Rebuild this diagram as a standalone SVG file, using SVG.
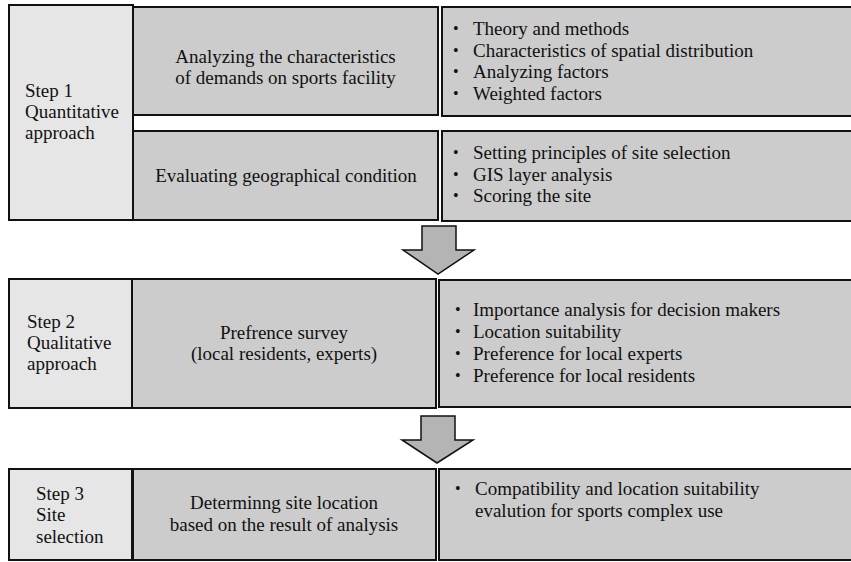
<svg xmlns="http://www.w3.org/2000/svg" width="851" height="562" viewBox="0 0 851 562" font-family="'Liberation Serif', Tinos, 'Times New Roman', 'DejaVu Serif', serif">
<style>
.step{fill:#e6e6e6;stroke:#111;stroke-width:2}
.mid{fill:#cccccc;stroke:#111;stroke-width:2}
.det{fill:#cccccc;stroke:#111;stroke-width:2}
.arrow{fill:#b4b4b4;stroke:#111;stroke-width:1.5;stroke-linejoin:miter}
text{font-family:'Liberation Serif', Tinos, 'Times New Roman', 'DejaVu Serif', serif;font-size:19px;fill:#111}
.c{text-anchor:middle}
.b{font-size:16px}
</style>
<rect width="851" height="562" fill="#fff"/>
<g id="step1">
<rect class="step" x="9" y="5" width="124" height="215"/>
<text x="25" y="97">Step 1</text>
<text x="25" y="118">Quantitative</text>
<text x="25" y="139">approach</text>
</g>
<g id="analyzing">
<rect class="mid" x="133" y="7" width="305" height="108"/>
<text class="c" x="285.5" y="63">Analyzing the characteristics</text>
<text class="c" x="285.5" y="84">of demands on sports facility</text>
</g>
<g id="analyzing-details">
<rect class="det" x="442" y="7" width="415" height="109"/>
<text class="b" x="453" y="34">•</text><text x="473" y="35">Theory and methods</text>
<text class="b" x="453" y="56">•</text><text x="473" y="57">Characteristics of spatial distribution</text>
<text class="b" x="453" y="77">•</text><text x="473" y="78">Analyzing factors</text>
<text class="b" x="453" y="99">•</text><text x="473" y="100">Weighted factors</text>
</g>
<g id="evaluating">
<rect class="mid" x="133" y="131" width="305" height="89"/>
<text class="c" x="286" y="182">Evaluating geographical condition</text>
</g>
<g id="evaluating-details">
<rect class="det" x="442" y="131" width="415" height="90"/>
<text class="b" x="453" y="158">•</text><text x="473" y="159">Setting principles of site selection</text>
<text class="b" x="453" y="180">•</text><text x="473" y="181">GIS layer analysis</text>
<text class="b" x="453" y="201">•</text><text x="473" y="202">Scoring the site</text>
</g>
<g id="step2">
<rect class="step" x="9" y="279" width="123" height="129"/>
<text x="27" y="328">Step 2</text>
<text x="27" y="349">Qualitative</text>
<text x="27" y="370">approach</text>
</g>
<g id="survey">
<rect class="mid" x="132" y="279" width="304" height="129"/>
<text class="c" x="284" y="339">Prefrence survey</text>
<text class="c" x="284" y="360">(local residents, experts)</text>
</g>
<g id="survey-details">
<rect class="det" x="439" y="280" width="418" height="127"/>
<text class="b" x="455" y="315">•</text><text x="473" y="316">Importance analysis for decision makers</text>
<text class="b" x="455" y="337">•</text><text x="473" y="338">Location suitability</text>
<text class="b" x="455" y="359">•</text><text x="473" y="360">Preference for local experts</text>
<text class="b" x="455" y="381">•</text><text x="473" y="382">Preference for local residents</text>
</g>
<g id="step3">
<rect class="step" x="9" y="469" width="123" height="91"/>
<text x="36" y="500">Step 3</text>
<text x="36" y="521">Site</text>
<text x="36" y="543">selection</text>
</g>
<g id="determining">
<rect class="mid" x="133" y="469" width="303" height="91"/>
<text class="c" x="284" y="509">Determinng site location</text>
<text class="c" x="284" y="531">based on the result of analysis</text>
</g>
<g id="determining-details">
<rect class="det" x="439" y="469" width="418" height="91"/>
<text class="b" x="455" y="494">•</text><text x="475" y="495">Compatibility and location suitability</text>
<text x="475" y="517">evalution for sports complex use</text>
</g>
<g id="connectors">
<polygon class="arrow" points="422,226 456,226 456,250 474,250 438,274 403,250 422,250"/>
<polygon class="arrow" points="421,416 455,416 455,440 473,440 437,463 402,440 421,440"/>
</g>
</svg>
